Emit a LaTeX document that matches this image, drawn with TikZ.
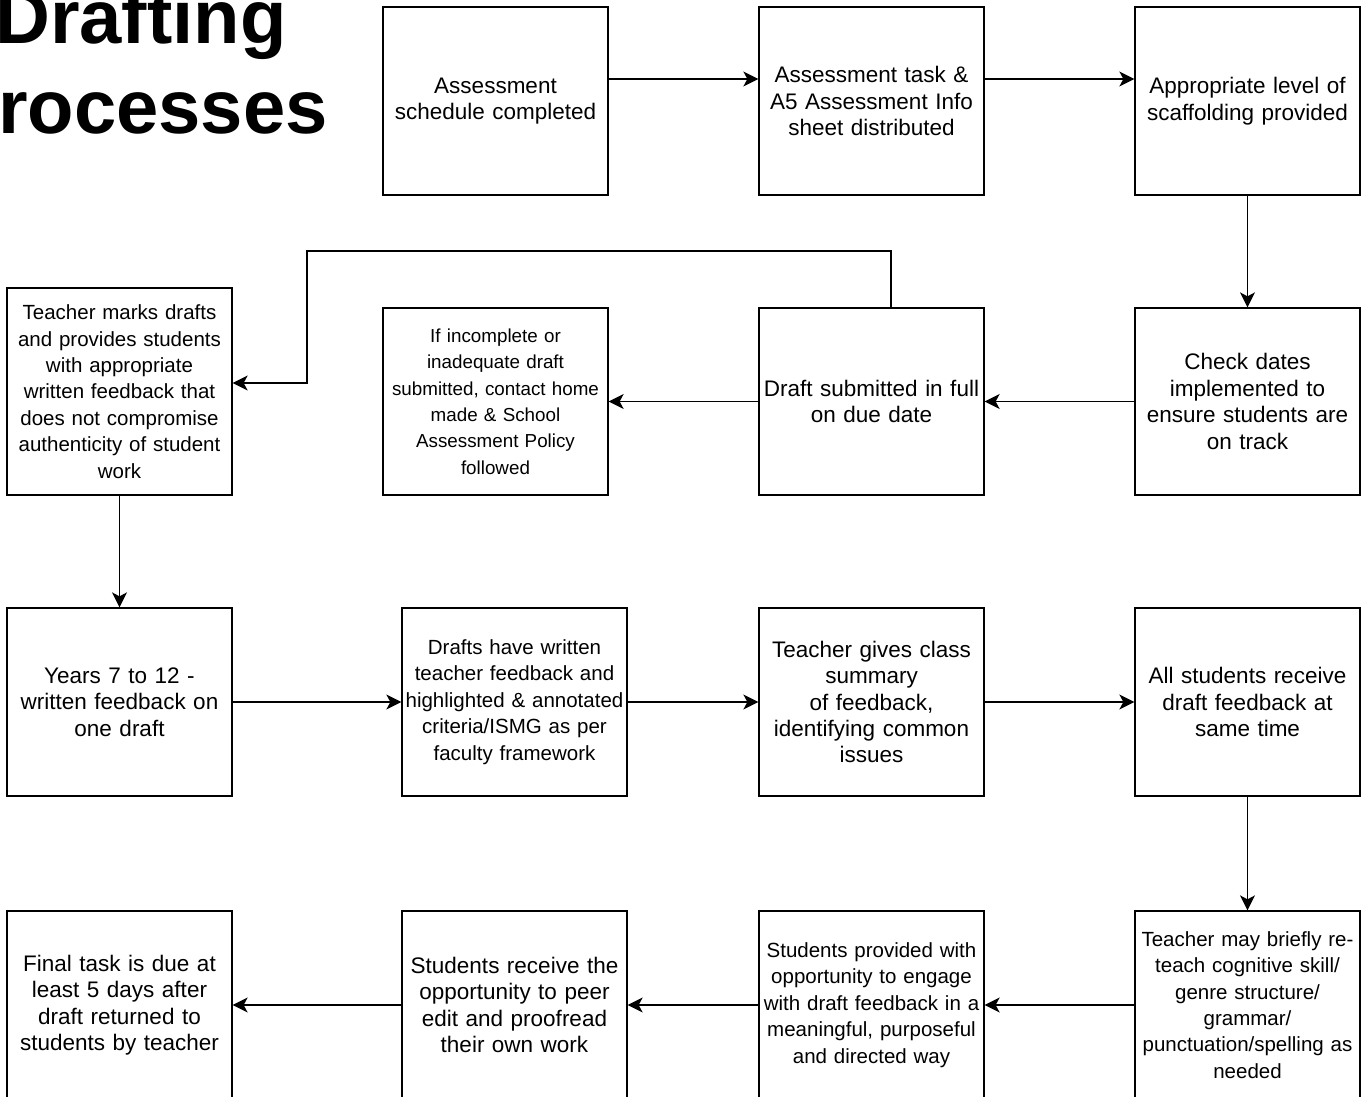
\documentclass[tikz,border=0pt]{standalone}
\usepackage{fontspec}
\setmainfont{Liberation Sans}
\usetikzlibrary{arrows.meta}
\begin{document}
\begin{tikzpicture}[x=1pt,y=-1pt,
  box/.style={draw=black,line width=1.3pt,minimum width=225pt,minimum height=188pt,
    inner sep=0pt,align=center,text width=224pt,font=\fontsize{22.5}{26.4}\selectfont},
  smalltext/.style={font=\fontsize{20.5}{26.4}\selectfont},
  tinytext/.style={font=\fontsize{18.8}{26.4}\selectfont},
  arr/.style={line width=1.3pt,-{Stealth[length=15pt,width=15pt,inset=4pt]}},
  title/.style={anchor=base west,inner sep=0pt,font=\fontsize{76}{80}\selectfont\bfseries}]
\clip (0,0) rectangle (1368,1097);
\useasboundingbox (0,0) rectangle (1368,1097);
\fill[white] (0,0) rectangle (1368,1097);
% title
\node[title] (t1) at (-5,44) {Drafting};
\node[title] (t2) at (-2,134) {rocesses};
% row 1
\node[box] (A) at (495.5,101) {Assessment\\schedule completed};
\node[box] (B) at (871.5,101) {Assessment task \&\\A5 Assessment Info\\sheet distributed};
\node[box] (C) at (1247.5,101) {Appropriate level of\\scaffolding provided};
% row 2
\node[box,minimum height=187pt] (D) at (1247.5,401.5) {Check dates\\implemented to\\ensure students are\\on track};
\node[box,minimum height=187pt] (E) at (871.5,401.5) {Draft submitted in full\\on due date};
\node[box,tinytext,minimum height=187pt] (F) at (495.5,401.5) {If incomplete or\\inadequate draft\\submitted, contact home\\made \& School\\Assessment Policy\\followed};
\node[box,smalltext,minimum height=207pt] (G) at (119.5,391.5) {Teacher marks drafts\\and provides students\\with appropriate\\written feedback that\\does not compromise\\authenticity of student\\work};
% row 3
\node[box] (H) at (119.5,702) {Years 7 to 12 -\\written feedback on\\one draft};
\node[box,smalltext] (I) at (514.5,702) {Drafts have written\\teacher feedback and\\highlighted \& annotated\\criteria/ISMG as per\\faculty framework};
\node[box] (J) at (871.5,702) {Teacher gives class\\summary\\of feedback,\\identifying common\\issues};
\node[box] (K) at (1247.5,702) {All students receive\\draft feedback at\\same time};
% row 4
\node[box,smalltext] (L) at (1247.5,1005) {Teacher may briefly re-\\teach cognitive skill/\\genre structure/\\grammar/\\punctuation/spelling as\\needed};
\node[box,smalltext] (M) at (871.5,1005) {Students provided with\\opportunity to engage\\with draft feedback in a\\meaningful, purposeful\\and directed way};
\node[box] (N) at (514.5,1005) {Students receive the\\opportunity to peer\\edit and proofread\\their own work};
\node[box] (O) at (119.5,1005) {Final task is due at\\least 5 days after\\draft returned to\\students by teacher};
% connectors
\draw[arr] ([yshift=22pt]A.east) -- ([yshift=22pt]B.west);
\draw[arr] ([yshift=22pt]B.east) -- ([yshift=22pt]C.west);
\draw[arr] (C.south) -- (D.north);
\draw[arr] (D.west) -- (E.east);
\draw[arr] (E.west) -- (F.east);
\coordinate (c1) at (307,251);
\draw[arr] ([xshift=19.5pt]E.north) |- (c1) |- ([yshift=8.5pt]G.east);
\draw[arr] (G.south) -- (H.north);
\draw[arr] (H.east) -- (I.west);
\draw[arr] (I.east) -- (J.west);
\draw[arr] (J.east) -- (K.west);
\draw[arr] (K.south) -- (L.north);
\draw[arr] (L.west) -- (M.east);
\draw[arr] (M.west) -- (N.east);
\draw[arr] (N.west) -- (O.east);
\end{tikzpicture}
\end{document}
